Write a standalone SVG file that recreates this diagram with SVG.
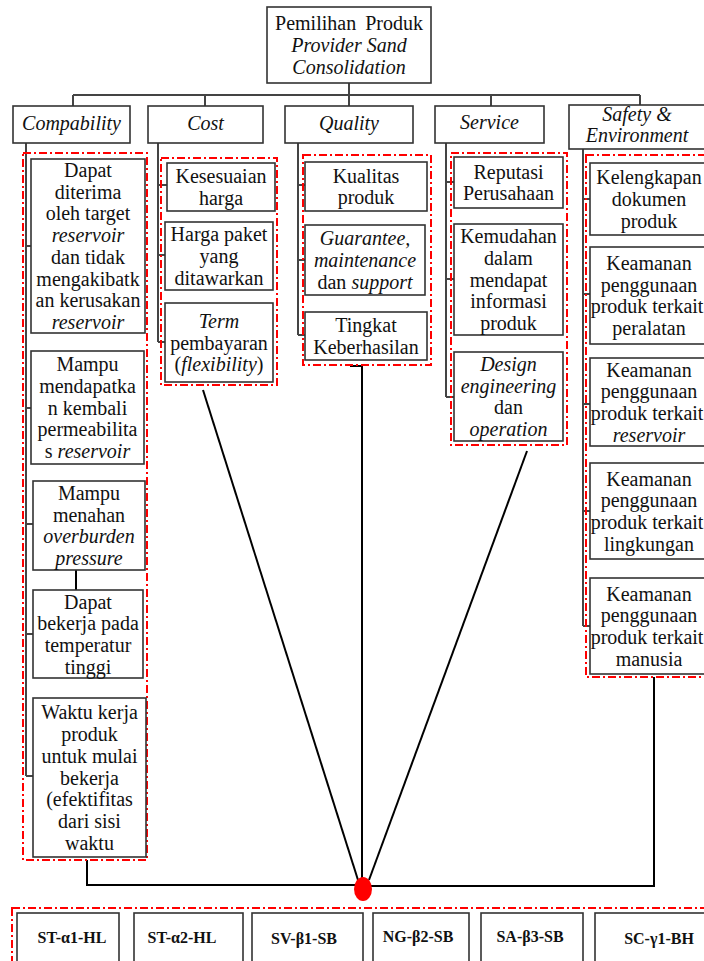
<svg xmlns="http://www.w3.org/2000/svg" width="704" height="961" viewBox="0 0 704 961">
<style>
.box{fill:#fff;stroke:#333;stroke-width:1.6}
.grp{fill:none;stroke:#f00;stroke-width:2;stroke-dasharray:8 3 2 3}
.t{font-family:"Liberation Serif","Times New Roman",serif;font-size:20px;fill:#111;text-anchor:middle}
.i{font-style:italic}
.b{font-weight:bold;font-size:16px}
.tree{stroke:#444;stroke-width:2;fill:none}
.link{stroke:#000;stroke-width:2;fill:none}
</style>
<rect width="704" height="961" fill="#fff"/>

<g id="connectors">
  <path class="tree" d="M349,83V95M73,95H640M73,95V106M205,95V106M349,95V106M491,95V106M640,95V105"/>
  <path class="tree" d="M26,143V776M26,246H31M26,408H31M26,524H33M26,634H33M26,776H33"/>
  <path class="tree" d="M158,143V342M158,185H167M158,255H165M158,342H165"/>
  <path class="tree" d="M298,143V335M298,185H305M298,260H305M298,335H305"/>
  <path class="tree" d="M446,143V397M446,182H454M446,279H454M446,397H454"/>
  <path class="tree" d="M583,149V626M583,199H590M583,294H590M583,404H590M583,511H590M583,626H590"/>
  <path class="link" d="M76,570V590"/>
  <path class="link" d="M87,860V885H356"/>
  <path class="link" d="M654,677V886H371"/>
  <path class="link" d="M350,366H362V880"/>
  <path class="link" d="M203,390L358,880"/>
  <path class="link" d="M527,451L369,880"/>
  <ellipse cx="363" cy="889" rx="9" ry="12" fill="#f00"/>
</g>

<g id="root">
  <rect class="box" x="267" y="7" width="164" height="76"/>
  <text class="t"><tspan x="349" y="30" word-spacing="4">Pemilihan Produk</tspan><tspan class="i" x="349" y="52">Provider Sand</tspan><tspan class="i" x="349" y="73.5">Consolidation</tspan></text>
</g>

<g id="compability">
  <rect class="box" x="13" y="106" width="117" height="37"/>
  <text class="t i" x="71.5" y="130">Compability</text>
</g>
<g id="cost">
  <rect class="box" x="148" y="106" width="115" height="37"/>
  <text class="t i" x="205.5" y="130">Cost</text>
</g>
<g id="quality">
  <rect class="box" x="285" y="106" width="128" height="37"/>
  <text class="t i" x="349" y="130">Quality</text>
</g>
<g id="service">
  <rect class="box" x="435" y="106" width="109" height="37"/>
  <text class="t i" x="489.5" y="129">Service</text>
</g>
<g id="safety">
  <rect class="box" x="569" y="105" width="140" height="44"/>
  <text class="t i"><tspan x="637" y="121">Safety &amp;</tspan><tspan x="637" y="142">Environment</tspan></text>
</g>

<g id="compability-criteria">
  <rect class="grp" x="23" y="153" width="124" height="707"/>
  <g id="c1">
    <rect class="box" x="31" y="159" width="114" height="174"/>
    <text class="t"><tspan x="88" y="177">Dapat</tspan><tspan x="88" y="198.7">diterima</tspan><tspan x="88" y="220.4">oleh target</tspan><tspan class="i" x="88" y="242.1">reservoir</tspan><tspan x="88" y="263.8">dan tidak</tspan><tspan x="88" y="285.5">mengakibatk</tspan><tspan x="88" y="307.2">an kerusakan</tspan><tspan class="i" x="88" y="328.9">reservoir</tspan></text>
  </g>
  <g id="c2">
    <rect class="box" x="31" y="351" width="113" height="113"/>
    <text class="t"><tspan x="87.5" y="371.1">Mampu</tspan><tspan x="87.5" y="392.8">mendapatka</tspan><tspan x="87.5" y="414.5">n kembali</tspan><tspan x="87.5" y="436.2">permeabilita</tspan><tspan x="87.5" y="457.9">s <tspan class="i">reservoir</tspan></tspan></text>
  </g>
  <g id="c3">
    <rect class="box" x="33" y="481" width="112" height="89"/>
    <text class="t"><tspan x="89" y="500">Mampu</tspan><tspan x="89" y="521.7">menahan</tspan><tspan class="i" x="89" y="543.4">overburden</tspan><tspan class="i" x="89" y="565.1">pressure</tspan></text>
  </g>
  <g id="c4">
    <rect class="box" x="33" y="590" width="110" height="88"/>
    <text class="t"><tspan x="88" y="608.5">Dapat</tspan><tspan x="88" y="630.2">bekerja pada</tspan><tspan x="88" y="651.9">temperatur</tspan><tspan x="88" y="673.6">tinggi</tspan></text>
  </g>
  <g id="c5">
    <rect class="box" x="33" y="698" width="113" height="159"/>
    <text class="t"><tspan x="89.5" y="719.4">Waktu kerja</tspan><tspan x="89.5" y="741.1">produk</tspan><tspan x="89.5" y="762.8">untuk mulai</tspan><tspan x="89.5" y="784.5">bekerja</tspan><tspan x="89.5" y="806.2">(efektifitas</tspan><tspan x="89.5" y="827.9">dari sisi</tspan><tspan x="89.5" y="849.6">waktu</tspan></text>
  </g>
</g>

<g id="cost-criteria">
  <rect class="grp" x="161" y="158" width="116" height="227"/>
  <g id="k1">
    <rect class="box" x="167" y="163" width="108" height="48"/>
    <text class="t"><tspan x="221" y="183.2">Kesesuaian</tspan><tspan x="221" y="204.9">harga</tspan></text>
  </g>
  <g id="k2">
    <rect class="box" x="165" y="222" width="108" height="68"/>
    <text class="t"><tspan x="219" y="241.3">Harga paket</tspan><tspan x="219" y="263">yang</tspan><tspan x="219" y="284.7">ditawarkan</tspan></text>
  </g>
  <g id="k3">
    <rect class="box" x="165" y="303" width="108" height="79"/>
    <text class="t"><tspan class="i" x="219" y="327.8">Term</tspan><tspan x="219" y="349.5">pembayaran</tspan><tspan x="219" y="371.2">(<tspan class="i">flexibility</tspan>)</tspan></text>
  </g>
</g>

<g id="quality-criteria">
  <rect class="grp" x="303" y="155" width="128" height="210"/>
  <g id="q1">
    <rect class="box" x="305" y="162" width="122" height="49"/>
    <text class="t"><tspan x="366" y="182.7">Kualitas</tspan><tspan x="366" y="204.4">produk</tspan></text>
  </g>
  <g id="q2">
    <rect class="box" x="305" y="225" width="120" height="70"/>
    <text class="t"><tspan class="i" x="365" y="245.3">Guarantee,</tspan><tspan class="i" x="365" y="267">maintenance</tspan><tspan x="365" y="288.7">dan <tspan class="i">support</tspan></tspan></text>
  </g>
  <g id="q3">
    <rect class="box" x="305" y="312" width="122" height="48"/>
    <text class="t"><tspan x="366" y="332.2">Tingkat</tspan><tspan x="366" y="353.9">Keberhasilan</tspan></text>
  </g>
</g>

<g id="service-criteria">
  <rect class="grp" x="451" y="153" width="116" height="292"/>
  <g id="s1">
    <rect class="box" x="454" y="157" width="109" height="51"/>
    <text class="t"><tspan x="508.5" y="178.7">Reputasi</tspan><tspan x="508.5" y="200.4">Perusahaan</tspan></text>
  </g>
  <g id="s2">
    <rect class="box" x="454" y="224" width="109" height="111"/>
    <text class="t"><tspan x="508.5" y="243.1">Kemudahan</tspan><tspan x="508.5" y="264.8">dalam</tspan><tspan x="508.5" y="286.5">mendapat</tspan><tspan x="508.5" y="308.2">informasi</tspan><tspan x="508.5" y="329.9">produk</tspan></text>
  </g>
  <g id="s3">
    <rect class="box" x="454" y="352" width="109" height="89"/>
    <text class="t"><tspan class="i" x="508.5" y="371">Design</tspan><tspan class="i" x="508.5" y="392.7">engineering</tspan><tspan x="508.5" y="414.4">dan</tspan><tspan class="i" x="508.5" y="436.1">operation</tspan></text>
  </g>
</g>

<g id="safety-criteria">
  <rect class="grp" x="586" y="155" width="130" height="522"/>
  <g id="f1">
    <rect class="box" x="590" y="163" width="120" height="72"/>
    <text class="t"><tspan x="649" y="184.3">Kelengkapan</tspan><tspan x="649" y="206">dokumen</tspan><tspan x="649" y="227.7">produk</tspan></text>
  </g>
  <g id="f2">
    <rect class="box" x="590" y="247" width="120" height="97"/>
    <text class="t"><tspan x="649" y="270">Keamanan</tspan><tspan x="649" y="291.7">penggunaan</tspan><tspan x="647" y="313.4">produk terkait</tspan><tspan x="649" y="335.1">peralatan</tspan></text>
  </g>
  <g id="f3">
    <rect class="box" x="590" y="358" width="120" height="88"/>
    <text class="t"><tspan x="649" y="376.5">Keamanan</tspan><tspan x="649" y="398.2">penggunaan</tspan><tspan x="647" y="419.9">produk terkait</tspan><tspan class="i" x="649" y="441.6">reservoir</tspan></text>
  </g>
  <g id="f4">
    <rect class="box" x="590" y="463" width="120" height="96"/>
    <text class="t"><tspan x="649" y="485.5">Keamanan</tspan><tspan x="649" y="507.2">penggunaan</tspan><tspan x="647" y="528.9">produk terkait</tspan><tspan x="649" y="550.6">lingkungan</tspan></text>
  </g>
  <g id="f5">
    <rect class="box" x="590" y="578" width="120" height="96"/>
    <text class="t"><tspan x="649" y="600.5">Keamanan</tspan><tspan x="649" y="622.2">penggunaan</tspan><tspan x="647" y="643.9">produk terkait</tspan><tspan x="649" y="665.6">manusia</tspan></text>
  </g>
</g>

<g id="alternatives">
  <rect class="grp" x="12" y="908" width="710" height="70"/>
  <g id="a1"><rect class="box" x="17" y="913" width="102" height="60"/><text class="t b" x="72" y="943">ST-α1-HL</text></g>
  <g id="a2"><rect class="box" x="134" y="913" width="109" height="60"/><text class="t b" x="182" y="943">ST-α2-HL</text></g>
  <g id="a3"><rect class="box" x="252" y="913" width="111" height="60"/><text class="t b" x="304" y="944">SV-β1-SB</text></g>
  <g id="a4"><rect class="box" x="373" y="913" width="96" height="60"/><text class="t b" x="418" y="942">NG-β2-SB</text></g>
  <g id="a5"><rect class="box" x="481" y="913" width="102" height="60"/><text class="t b" x="530" y="942">SA-β3-SB</text></g>
  <g id="a6"><rect class="box" x="595" y="913" width="128" height="60"/><text class="t b" x="659" y="944">SC-γ1-BH</text></g>
</g>
</svg>
